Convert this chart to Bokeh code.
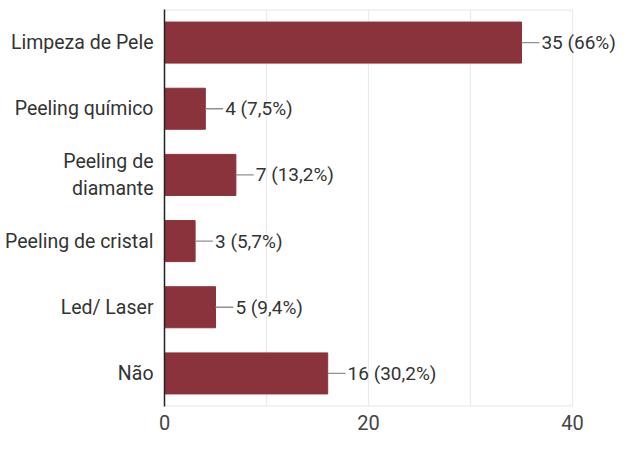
from bokeh.plotting import figure
from bokeh.models import ColumnDataSource, FixedTicker, Range1d
from bokeh.core.properties import value
from bokeh.embed import file_html
from bokeh.resources import INLINE

categories = ["Limpeza de Pele", "Peeling químico", "Peeling de\ndiamante",
              "Peeling de cristal", "Led/ Laser", "Não"]
values = [35, 4, 7, 3, 5, 16]
labels = ["35 (66%)", "4 (7,5%)", "7 (13,2%)", "3 (5,7%)", "5 (9,4%)", "16 (30,2%)"]
x_ticks = [0, 20, 40]
grid_ticks = [10, 20, 30, 40]
x_max = 40

FONT = "Roboto"
BAR = "#8a333c"

n = len(categories)
ypos = [n - 1 - i for i in range(n)]

W, H = 617, 434
LEFT = 164
PX_PER_UNIT = 10.2
x_end = (W - LEFT) / PX_PER_UNIT

src = ColumnDataSource(dict(
    y=ypos, val=values, lab=labels,
    lx1=[v + 1.75 for v in values],
    tx=[v + 1.95 for v in values],
))

p = figure(width=W, height=H, output_backend="svg", toolbar_location=None,
           x_range=Range1d(0, x_end), y_range=Range1d(-0.5, n - 0.5),
           min_border_left=LEFT, min_border_right=0, min_border_top=9, min_border_bottom=28)

p.outline_line_color = None
p.xgrid.ticker = FixedTicker(ticks=grid_ticks)
p.xgrid.grid_line_color = "#ebebeb"
p.xgrid.grid_line_width = 1.2
p.ygrid.grid_line_color = None

# plot-area border (top and bottom edges up to x=40)
p.segment(x0=[0, 0], x1=[x_max, x_max], y0=[n - 0.5, -0.5], y1=[n - 0.5, -0.5],
          line_color="#ebebeb", line_width=2.4)

p.hbar(y="y", right="val", left=0, height=0.62, source=src, color=BAR)
p.segment(x0="val", y0="y", x1="lx1", y1="y", source=src, line_color="#8f8f8f", line_width=1.3)
p.text(x="tx", y="y", text="lab", source=src, text_font=value(FONT), text_font_size="19px",
       text_color="#333333", text_align="left", text_baseline="middle")

p.xaxis.ticker = FixedTicker(ticks=x_ticks)
p.xaxis.axis_line_color = None
p.xaxis.major_tick_line_color = None
p.xaxis.minor_tick_line_color = None
p.xaxis.major_label_text_font = FONT
p.xaxis.major_label_text_font_size = "20px"
p.xaxis.major_label_text_color = "#444444"
p.xaxis.major_label_standoff = 2

p.yaxis.ticker = FixedTicker(ticks=ypos)
p.yaxis.major_label_overrides = {yv: c for yv, c in zip(ypos, categories)}
p.yaxis.axis_line_color = "#222222"
p.yaxis.axis_line_width = 1.5
p.yaxis.major_tick_line_color = None
p.yaxis.minor_tick_line_color = None
p.yaxis.major_label_text_font = FONT
p.yaxis.major_label_text_font_size = "19.5px"
p.yaxis.major_label_text_color = "#333333"
p.yaxis.major_label_standoff = 5

p.background_fill_color = "white"
p.border_fill_color = "white"

open("out.html", "w").write(file_html(p, INLINE))
